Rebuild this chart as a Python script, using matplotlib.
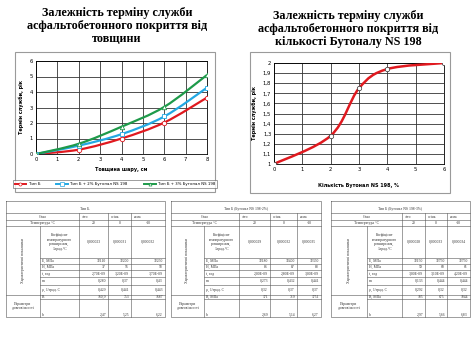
import matplotlib.pyplot as plt
from matplotlib.path import Path
from matplotlib.patches import PathPatch, Rectangle

# --- chart data ---
thickness = [0, 2, 4, 6, 8]
life_b = [0.0, 0.28, 1.0, 2.03, 3.64]
life_b2 = [0.0, 0.54, 1.28, 2.42, 4.28]
life_b3 = [0.0, 0.66, 1.76, 3.04, 5.1]
series_names = ['Тип Б', 'Тип Б + 2% Бутонал NS 198', 'Тип Б + 3% Бутонал NS 198']

butonal_pct = [0, 2, 3, 4, 6]
life_butonal = [1.0, 1.28, 1.75, 1.94, 2.0]

title_left = 'Залежність терміну служби\nасфальтобетонного покриття від\nтовщини'
title_right = 'Залежність терміну служби\nасфальтобетонного покриття від\nкількості Бутоналу NS 198'

# --- table data ---
table_titles = ['Тип Б.', 'Тип Б (Бутонал NS 198-2%)', 'Тип Б (Бутонал NS 198-3%)']
seasons = ['літо', 'осінь', 'зима']
temps = ['20', '0', '-10']
param_names = ['E, МПа', 'H, МПа', 't, год', 'm', 'ρ, 1/град. С']
dur_names = [['B', 'b'], ['B, МПа', 'b'], ['B, МПа', 'b']]
coef_vals = [['0,000023', '0,000031', '0,000032'],
             ['0,000029', '0,000032', '0,000035'],
             ['0,000028', '0,000033', '0,000034']]
table_vals = [
    [['32110', '32200', '32250'], ['37', '56', '58'],
     ['2,70E-09', '3,20E-09', '3,70E-09'], ['0,280', '0,37', '0,43'],
     ['0,429', '0,441', '0,443'], ['160,9', '753', '1687'], ['2,47', '5,25', '6,22']],
    [['32180', '32400', '32350'], ['86', '87', '88'],
     ['2,00E-09', '2,80E-09', '3,00E-09'], ['0,273', '0,432', '0,441'],
     ['0,32', '0,37', '0,37'], ['171', '719', '1751'], ['2,69', '5,14', '6,27']],
    [['32150', '32750', '32750'], ['59', '60', '61'],
     ['3,00E-09', '3,10E-09', '4,20E-09'], ['0,133', '0,444', '0,444'],
     ['0,292', '0,32', '0,32'], ['185', '675', '1844'], ['2,97', '5,66', '6,83']],
]

W, H = 474, 355
fig = plt.figure(figsize=(W / 100, H / 100), dpi=100)


def fbox(x0, y0, x1, y1):
    return [x0 / W, 1 - y1 / H, (x1 - x0) / W, (y1 - y0) / H]


def smooth_path(xs, ys):
    # bezier segments through the points, like excel's smoothed line
    pts = list(zip(xs, ys))
    verts = [pts[0]]
    codes = [Path.MOVETO]
    n = len(pts)
    for i in range(n - 1):
        p0 = pts[max(i - 1, 0)]
        p1 = pts[i]
        p2 = pts[i + 1]
        p3 = pts[min(i + 2, n - 1)]
        c1 = (p1[0] + (p2[0] - p0[0]) / 6, p1[1] + (p2[1] - p0[1]) / 6)
        c2 = (p2[0] - (p3[0] - p1[0]) / 6, p2[1] - (p3[1] - p1[1]) / 6)
        verts += [c1, c2, p2]
        codes += [Path.CURVE4] * 3
    return Path(verts, codes)


# background overlay in pixel units (frames + tables)
bg = fig.add_axes([0, 0, 1, 1], zorder=-1)
bg.set_xlim(0, W)
bg.set_ylim(H, 0)
bg.axis('off')
bg.add_patch(Rectangle((15, 52), 200, 140, fill=False, ec='#9a9a9a', lw=0.8))
bg.add_patch(Rectangle((250, 52), 200, 141, fill=False, ec='#9a9a9a', lw=0.8))

title_kw = dict(ha='center', va='center', fontsize=8.7, fontweight='bold',
                family='Liberation Serif', linespacing=1.15)
fig.text(117 / W, 1 - 26 / H, title_left, **title_kw)
fig.text(348 / W, 1 - 29 / H, title_right, **title_kw)

tick_kw = dict(labelsize=3.8, length=0, pad=2)
lab_kw = dict(fontsize=3.5, fontweight='bold')

# left chart
ax1 = fig.add_axes(fbox(36, 61, 207, 154))
colors = ['#e0191f', '#23a8e3', '#1e9a4a']
markers = ['o', 's', '^']
for yv, c, mk, name in zip([life_b, life_b2, life_b3], colors, markers, series_names):
    ax1.add_patch(PathPatch(smooth_path(thickness, yv), fill=False, ec=c, lw=1.6, zorder=3))
    ax1.plot(thickness, yv, ls='none', marker=mk, ms=3.2, mfc='white', mec=c, mew=0.6, zorder=4)
    ax1.plot([], [], color=c, lw=1.4, marker=mk, ms=2.2, mfc='white', mec=c, mew=0.5, label=name)
ax1.set_xlim(0, 8)
ax1.set_ylim(0, 6)
ax1.set_xticks(range(0, 9))
ax1.set_yticks(range(0, 7))
ax1.grid(True, color='#333333', lw=0.6)
ax1.tick_params(**tick_kw)
for s in ax1.spines.values():
    s.set_linewidth(0.6)
ax1.set_xlabel('Товщина шару, см', labelpad=4, **lab_kw)
ax1.set_ylabel('Термін служби, рік', labelpad=4, **lab_kw)
leg = ax1.legend(loc='center', bbox_to_anchor=(115 / W, 1 - 184 / H), bbox_transform=fig.transFigure,
                 ncol=3, fontsize=2.8, frameon=True, fancybox=False, edgecolor='#555555',
                 handlelength=3.0, handletextpad=0.6, columnspacing=4.2, borderpad=0.5)
leg.get_frame().set_linewidth(0.5)

# right chart
ax2 = fig.add_axes(fbox(274, 63, 444, 164))
ax2.add_patch(PathPatch(smooth_path(butonal_pct, life_butonal), fill=False, ec='#e0191f', lw=1.8, zorder=3))
ax2.plot(butonal_pct, life_butonal, ls='none', marker='o', ms=3.2, mfc='white', mec='#333333', mew=0.5, zorder=4)
ax2.set_xlim(0, 6)
ax2.set_ylim(1, 2)
ax2.set_xticks(range(0, 7))
yt = [1 + i / 10 for i in range(11)]
ax2.set_yticks(yt)
ax2.set_yticklabels([f'{v:g}'.replace('.', ',') for v in yt])
ax2.grid(True, color='#333333', lw=0.6)
ax2.tick_params(**tick_kw)
for s in ax2.spines.values():
    s.set_linewidth(0.6)
ax2.set_xlabel('Кількість Бутонал NS 198, %', labelpad=8, **lab_kw)
ax2.set_ylabel('Термін служби, рік', labelpad=4, **lab_kw)

# tables
col_edges = [[6, 40, 79, 108, 131, 165],
             [171, 204, 239, 270, 297, 321],
             [331, 367, 402, 425, 447, 470]]
row_edges = [201, 213, 220, 226, 258, 264, 270, 277, 285, 295, 299, 317]
lc = '#555555'
tf = dict(family='Liberation Serif', fontsize=2.7, color='#333333')
for k in range(3):
    cx = col_edges[k]
    r = row_edges
    line = dict(color=lc, lw=0.4)
    bg.plot([cx[0], cx[-1], cx[-1], cx[0], cx[0]], [r[0], r[0], r[-1], r[-1], r[0]], **line)
    for yy in r[1:4]:
        bg.plot([cx[0], cx[-1]], [yy, yy], **line)
    for yy in r[4:-1]:
        bg.plot([cx[1], cx[-1]], [yy, yy], **line)
    bg.plot([cx[0], cx[1]], [r[9], r[9]], **line)
    bg.plot([cx[1], cx[1]], [r[3], r[-1]], **line)
    for xx in cx[2:-1]:
        bg.plot([xx, xx], [r[1], r[-1]], **line)
    bg.text((cx[0] + cx[-1]) / 2, (r[0] + r[1]) / 2 + 2, table_titles[k], ha='center', va='center', **tf)
    bg.text((cx[0] + cx[2]) / 2, (r[1] + r[2]) / 2, 'Стан', ha='center', va='center', **tf)
    bg.text((cx[0] + cx[2]) / 2, (r[2] + r[3]) / 2, 'Температура °С', ha='center', va='center', **tf)
    for j in range(3):
        bg.text(cx[j + 2] + 3, (r[1] + r[2]) / 2, seasons[j], ha='left', va='center', **tf)
        bg.text((cx[j + 2] + cx[j + 3]) / 2, (r[2] + r[3]) / 2, temps[j], ha='center', va='center', **tf)
        bg.text((cx[j + 2] + cx[j + 3]) / 2, (r[3] + r[4]) / 2, coef_vals[k][j], ha='center', va='center', **tf)
    bg.text((cx[0] + cx[1]) / 2, (r[3] + r[9]) / 2, 'Характеристичні показники',
            ha='center', va='center', rotation=90, **tf)
    bg.text((cx[0] + cx[1]) / 2, (r[9] + r[-1]) / 2, 'Параметри\nдовговічності',
            ha='center', va='center', **tf)
    bg.text((cx[1] + cx[2]) / 2, (r[3] + r[4]) / 2,
            'Коефіцієнт\nтемпературного\nрозширення,\n1/град.°С', ha='center', va='center', **tf)
    names = param_names + dur_names[k]
    for i in range(7):
        y0, y1 = r[4 + i], r[5 + i]
        ty = (y0 + y1) / 2 if i < 6 else y1 - 2
        bg.text(cx[1] + 2, ty, names[i], ha='left', va='center', **tf)
        for j in range(3):
            bg.text(cx[j + 3] - 2, ty, table_vals[k][i][j], ha='right', va='center', **tf)

fig.savefig('out.png', dpi=100)
